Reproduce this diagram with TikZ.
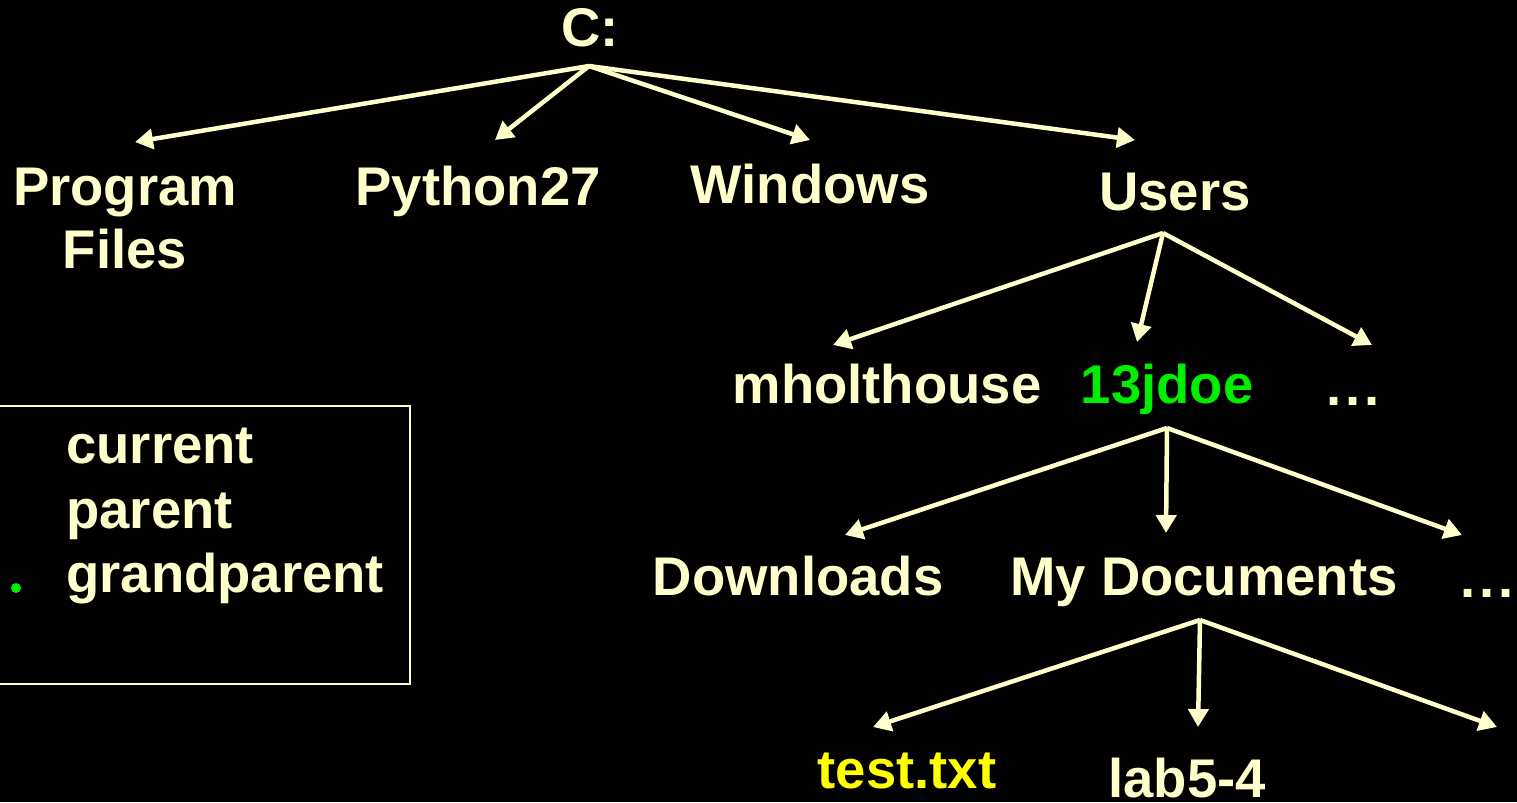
\documentclass[tikz,border=0pt]{standalone}
\usepackage{fontspec}
\setmainfont{Liberation Sans}
\usepackage{xcolor}
\usetikzlibrary{arrows.meta, positioning}

\definecolor{creme}{HTML}{FFFFCC}
\definecolor{verde}{HTML}{00EE00}
\definecolor{amarelo}{HTML}{FFFF00}

\begin{document}
\begin{tikzpicture}[
        x=0.02cm, y=-0.02cm,
        pasta/.style={anchor=base, inner sep=0pt, text=creme, font=\fontsize{31}{37}\selectfont\bfseries},
        legenda/.style={pasta, anchor=base west},
        seta_arvore/.style={draw=creme, line width=0.09cm, -{Triangle[length=0.36cm, width=0.4cm]}}
    ]
    \fill[black] (0,0) rectangle (1517,802);
    \useasboundingbox (0,0) rectangle (1517,802);

    % diretorios
    \node[pasta] (raiz) at (590,46) {C:};
    \node[pasta] (prog) at (125,205) {Program};
    \node[pasta] (progfiles) at (125,268) {Files};
    \node[pasta] (python) at (478,205) {Python27};
    \node[pasta] (windows) at (810,203) {Windows};
    \node[pasta] (users) at (1175,210) {Users};

    \node[pasta] (mholt) at (887,403) {mholthouse};
    \node[pasta, text=verde] (jdoe) at (1167,403) {13jdoe};
    \node[pasta] (outros_users) at (1353,405) {.\kern0.07em.\kern0.07em.};

    \node[pasta] (downloads) at (798,595) {Downloads};
    \node[pasta] (mydocs) at (1204,595) {My Documents};
    \node[pasta] (outros_jdoe) at (1487,597) {.\kern0.07em.\kern0.07em.};

    \node[pasta, text=amarelo] (teste) at (907,788) {test.txt};
    \node[pasta] (lab) at (1187,797) {lab5-4};

    % pontos de saida e pontas das setas
    \coordinate (raiz_out) at (589,66);
    \coordinate (users_out) at (1163,233);
    \coordinate (jdoe_out) at (1167,428);
    \coordinate (mydocs_out) at (1200,620);

    \coordinate (prog_in) at (135,142);
    \coordinate (python_in) at (495,140);
    \coordinate (windows_in) at (810,140);
    \coordinate (users_in) at (1135,140);
    \coordinate (mholt_in) at (833,345);
    \coordinate (jdoe_in) at (1137,342);
    \coordinate (outros_users_in) at (1372,345);
    \coordinate (downloads_in) at (845,535);
    \coordinate (mydocs_in) at (1166,533);
    \coordinate (outros_jdoe_in) at (1462,535);
    \coordinate (teste_in) at (873,727);
    \coordinate (lab_in) at (1198,727);
    \coordinate (outros_mydocs_in) at (1497,727);

    \foreach \alvo in {prog_in, python_in, windows_in, users_in}
        \draw[seta_arvore] (raiz_out) -- (\alvo);
    \foreach \alvo in {mholt_in, jdoe_in, outros_users_in}
        \draw[seta_arvore] (users_out) -- (\alvo);
    \foreach \alvo in {downloads_in, mydocs_in, outros_jdoe_in}
        \draw[seta_arvore] (jdoe_out) -- (\alvo);
    \foreach \alvo in {teste_in, lab_in, outros_mydocs_in}
        \draw[seta_arvore] (mydocs_out) -- (\alvo);

    % legenda
    \draw[creme, line width=0.04cm] (-10,406) rectangle (410,684);
    \node[legenda] (atual) at (66,463) {current};
    \node[legenda] (pai) at (66,528) {parent};
    \node[legenda] (avo) at (66,592) {grandparent};
    \fill[verde] (16,588) circle (5);
\end{tikzpicture}
\end{document}
